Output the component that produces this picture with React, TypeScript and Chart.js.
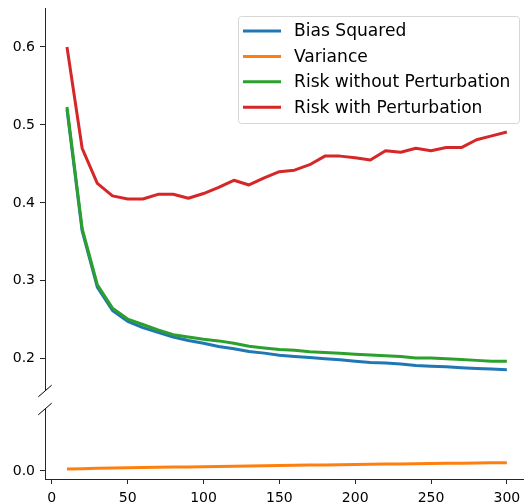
import React, { useEffect, useRef } from "react";
import { Chart, registerables } from "chart.js";

Chart.register(...registerables);

const xValues = [10, 20, 30, 40, 50, 60, 70, 80, 90, 100, 110, 120, 130, 140, 150, 160, 170, 180, 190, 200, 210, 220, 230, 240, 250, 260, 270, 280, 290, 300];
const biasSquared = [0.520, 0.364, 0.292, 0.262, 0.248, 0.240, 0.234, 0.228, 0.2235, 0.220, 0.2158, 0.2128, 0.2094, 0.2073, 0.2047, 0.2030, 0.2017, 0.2000, 0.1987, 0.1968, 0.1953, 0.1945, 0.1932, 0.1914, 0.1906, 0.1897, 0.1885, 0.1876, 0.1868, 0.1859];
const variance = [0.0025, 0.003, 0.0035, 0.0038, 0.0042, 0.0045, 0.0048, 0.005, 0.0052, 0.0055, 0.0058, 0.006, 0.0063, 0.0066, 0.0069, 0.0072, 0.0075, 0.0078, 0.008, 0.0083, 0.0085, 0.0088, 0.009, 0.0093, 0.0095, 0.0098, 0.01, 0.0102, 0.0105, 0.0107];
const riskWithout = [0.523, 0.367, 0.295, 0.265, 0.251, 0.244, 0.237, 0.231, 0.228, 0.225, 0.223, 0.220, 0.216, 0.214, 0.212, 0.211, 0.209, 0.208, 0.207, 0.206, 0.205, 0.204, 0.203, 0.201, 0.201, 0.200, 0.199, 0.198, 0.197, 0.197];
const riskWith = [0.600, 0.470, 0.425, 0.409, 0.405, 0.405, 0.411, 0.411, 0.406, 0.412, 0.420, 0.429, 0.423, 0.432, 0.440, 0.442, 0.449, 0.460, 0.460, 0.458, 0.455, 0.467, 0.465, 0.470, 0.467, 0.471, 0.471, 0.481, 0.486, 0.491];

const seriesLabels = ["Bias Squared", "Variance", "Risk without Perturbation", "Risk with Perturbation"];
const seriesColors = ["#1f77b4", "#ff7f0e", "#2ca02c", "#d62728"];
const topTicks = [0.2, 0.3, 0.4, 0.5, 0.6];
const bottomTicks = [0.0];
const xTicks = [0, 50, 100, 150, 200, 250, 300];

const FONT = '"DejaVu Sans", sans-serif';
const SPINE = "#262626";

function makeDatasets() {
  const series = [biasSquared, variance, riskWithout, riskWith];
  const orders = [4, 3, 2, 1];
  return series.map((vals, i) => ({
    label: seriesLabels[i],
    data: xValues.map((x, j) => ({ x, y: vals[j] })),
    borderColor: seriesColors[i],
    backgroundColor: seriesColors[i],
    borderWidth: 3,
    pointRadius: 0,
    tension: 0,
    fill: false,
    order: orders[i],
    borderCapStyle: "butt" as const,
    borderJoinStyle: "round" as const,
  }));
}

const breakPlugin = (where: "bottom" | "top") => ({
  id: "breakMarks_" + where,
  afterDraw(chart: any) {
    const { ctx, chartArea } = chart;
    const cx = chartArea.left;
    const cy = where === "bottom" ? chartArea.bottom + 1 : chartArea.top;
    ctx.save();
    ctx.strokeStyle = "#000";
    ctx.lineWidth = 1;
    ctx.beginPath();
    ctx.moveTo(cx - 6.7, cy + 5.8);
    ctx.lineTo(cx + 6.7, cy - 5.8);
    ctx.stroke();
    ctx.restore();
  },
});

const legendPlugin = {
  id: "mplLegend",
  afterDraw(chart: any) {
    const ctx = chart.ctx;
    ctx.save();
    const bx = 238.5, by = 16.5, bw = 281, bh = 107;
    ctx.beginPath();
    ctx.roundRect(bx, by, bw, bh, 3);
    ctx.fillStyle = "rgba(255,255,255,0.8)";
    ctx.fill();
    ctx.strokeStyle = "#d6d6d6";
    ctx.lineWidth = 1;
    ctx.stroke();
    ctx.font = `17.1px ${FONT}`;
    ctx.textBaseline = "middle";
    ctx.textAlign = "left";
    seriesLabels.forEach((label, i) => {
      const ry = 31 + i * 25.4;
      ctx.strokeStyle = seriesColors[i];
      ctx.lineWidth = 3;
      ctx.beginPath();
      ctx.moveTo(243, ry);
      ctx.lineTo(281, ry);
      ctx.stroke();
      ctx.fillStyle = "#000";
      ctx.fillText(label, 294, ry + 1);
    });
    ctx.restore();
  },
};

function yScale(min: number, max: number, ticks: number[]) {
  return {
    type: "linear" as const,
    min,
    max,
    afterBuildTicks: (scale: any) => {
      scale.ticks = ticks.map((v) => ({ value: v }));
    },
    afterFit: (scale: any) => {
      scale.width = 45;
      scale.paddingTop = 0;
      scale.paddingBottom = 0;
    },
    ticks: {
      color: "#000",
      font: { family: FONT, size: 14 },
      padding: 5,
      callback: (v: any) => Number(v).toFixed(1),
    },
    grid: {
      display: true,
      drawOnChartArea: false,
      drawTicks: true,
      tickLength: 5,
      tickColor: SPINE,
      tickWidth: 1,
    },
    border: { display: true, color: SPINE, width: 1 },
  };
}

function xScale(show: boolean) {
  return {
    type: "linear" as const,
    min: -4.5,
    max: 311.3,
    display: show,
    afterBuildTicks: (scale: any) => {
      scale.ticks = xTicks.map((v) => ({ value: v }));
    },
    afterFit: (scale: any) => {
      if (show) scale.height = 23;
      scale.paddingLeft = 0;
      scale.paddingRight = 0;
    },
    ticks: {
      color: "#000",
      font: { family: FONT, size: 14 },
      padding: 6,
      maxRotation: 0,
      callback: (v: any) => String(v),
    },
    grid: {
      display: true,
      drawOnChartArea: false,
      drawTicks: true,
      tickLength: 5,
      tickColor: SPINE,
      tickWidth: 1,
    },
    border: { display: true, color: SPINE, width: 1 },
  };
}

export default function App() {
  const topRef = useRef<HTMLCanvasElement>(null);
  const botRef = useRef<HTMLCanvasElement>(null);

  useEffect(() => {
    const common = {
      responsive: false,
      animation: false as const,
      devicePixelRatio: 1,
      plugins: { legend: { display: false }, tooltip: { enabled: false } },
      events: [] as any[],
    };
    const top = new Chart(topRef.current!, {
      type: "line",
      data: { datasets: makeDatasets() },
      options: {
        ...common,
        layout: { padding: { top: 8, bottom: 10, left: 0, right: 0 } },
        scales: { x: xScale(false), y: yScale(0.16, 0.65, topTicks) },
      },
      plugins: [breakPlugin("bottom"), legendPlugin],
    });
    const bottom = new Chart(botRef.current!, {
      type: "line",
      data: { datasets: makeDatasets() },
      options: {
        ...common,
        layout: { padding: { top: 9, bottom: 0, left: 0, right: 0 } },
        scales: { x: xScale(true), y: yScale(-0.0103, 0.0795, bottomTicks) },
      },
      plugins: [breakPlugin("top")],
    });
    return () => {
      top.destroy();
      bottom.destroy();
    };
  }, []);

  return (
    <div style={{ position: "fixed", left: 0, top: 0, width: 524, height: 502, overflow: "hidden", background: "#fff" }}>
      <canvas ref={topRef} width={524} height={400} style={{ position: "absolute", left: 0, top: 0, width: 524, height: 400 }} />
      <canvas ref={botRef} width={524} height={102} style={{ position: "absolute", left: 0, top: 400, width: 524, height: 102 }} />
    </div>
  );
}
